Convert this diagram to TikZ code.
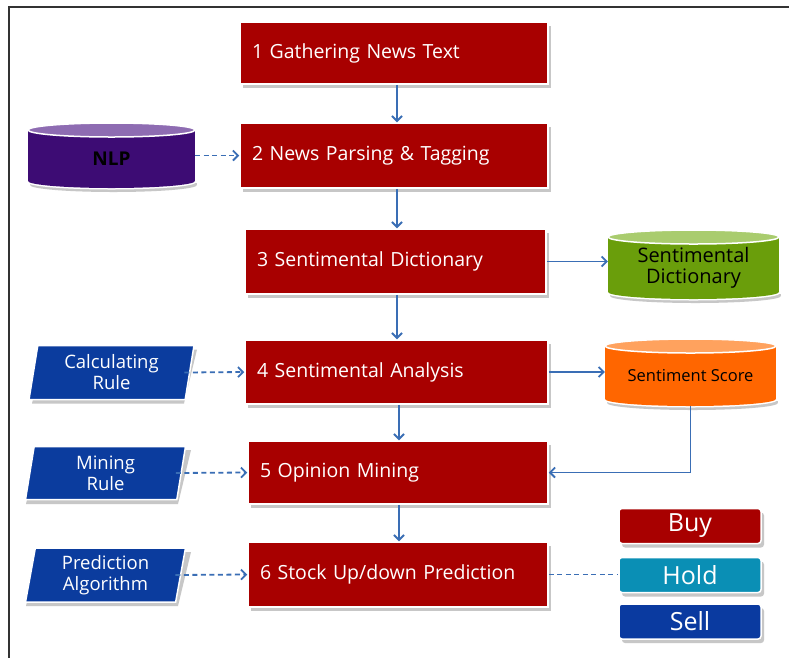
\documentclass[tikz,border=0pt]{standalone}
\usepackage{fontspec}
\setmainfont{Open Sans}
\usetikzlibrary{arrows.meta,shapes.geometric,calc}
\definecolor{boxred}{HTML}{A80000}
\definecolor{arrblue}{HTML}{3A6EB5}
\definecolor{para}{HTML}{0B3C9E}
\definecolor{purpb}{HTML}{3D0C74}
\definecolor{purpt}{HTML}{8E6CB2}
\definecolor{greenb}{HTML}{6A9E0B}
\definecolor{greent}{HTML}{A9CC6E}
\definecolor{orangeb}{HTML}{FF6600}
\definecolor{oranget}{HTML}{FFA25E}
\definecolor{teal}{HTML}{0A8FB5}
\definecolor{sellblue}{HTML}{0A3AA0}
\tikzset{
  stepbox/.style={fill=boxred, draw=white, line width=1.5pt, text=white, font=\fontsize{19.5}{22}\selectfont,
    align=left, inner xsep=11pt, anchor=center},
  shad/.style={fill=black!22},
  arr/.style={draw=arrblue, line width=1.8pt, -{Straight Barb[length=5pt,width=10pt]}},
  darr/.style={arr, dash pattern=on 5pt off 3.5pt},
  pgram/.style={trapezium, trapezium left angle=76, trapezium right angle=104, trapezium stretches body,
    fill=para, draw=white, line width=1.5pt, text=white, font=\fontsize{18.5}{21}\selectfont, align=center, inner sep=0pt},
  choice/.style={rounded corners=3pt, draw=white, line width=1.5pt, text=white, font=\fontsize{25}{27}\selectfont,
    minimum width=142pt, minimum height=35pt, inner sep=0pt},
}
% cylinder: name, x1, y1, x2, y2, body, top, ry
\newcommand\mycyl[8]{%
  \pgfmathsetmacro\cx{(#2+#4)/2}%
  \pgfmathsetmacro\rx{(#4-#2)/2}%
  \pgfmathsetmacro\ytop{#3+#8}%
  \pgfmathsetmacro\ybot{#5-#8}%
  \fill[shad] ({#2+2},{\ytop+4}) rectangle ({#4+2},{\ybot+4});
  \fill[shad] ({\cx+2},{\ybot+4}) ellipse [x radius=\rx, y radius=#8];
  \filldraw[white, line width=3pt] (#2,\ytop) rectangle (#4,\ybot);
  \filldraw[white, line width=3pt] (\cx,\ybot) ellipse [x radius=\rx, y radius=#8];
  \fill[#6] (#2,\ytop) rectangle (#4,\ybot);
  \fill[#6] (\cx,\ybot) ellipse [x radius=\rx, y radius=#8];
  \filldraw[fill=#7, draw=white, line width=1.5pt] (\cx,\ytop) ellipse [x radius=\rx, y radius=#8];
  \node[inner sep=0pt, minimum width={#4-#2}, minimum height={#5-#3-#8}] (#1) at (\cx,{(#3+#5)/2+#8/2}) {};
}
\begin{document}
\begin{tikzpicture}[x=1pt,y=-1pt]
\useasboundingbox (0,0) rectangle (789,657);
\fill[white] (0,0) rectangle (789,657);
% frame
\draw[black!80, line width=1.6pt] (9,658) -- (9,7) -- (790,7);

% step boxes with shadows
\foreach \cx/\cy/\w/\h in {394/53/308/62, 394/155.5/308/65, 395.5/261.5/301/65, 396.5/372/303/64, 398/472.5/300/63, 398/574.5/300/65}{
  \fill[shad] ({\cx-\w/2+3},{\cy-\h/2+4}) rectangle ({\cx+\w/2+3},{\cy+\h/2+4});
}
\node[stepbox, minimum width=308pt, minimum height=62pt, text width=284pt] (b1) at (394,53) {1 Gathering News Text};
\node[stepbox, minimum width=308pt, minimum height=65pt, text width=284pt] (b2) at (394,155.5) {2 News Parsing \& Tagging};
\node[stepbox, minimum width=301pt, minimum height=65pt, text width=277pt] (b3) at (395.5,261.5) {3 Sentimental Dictionary};
\node[stepbox, minimum width=303pt, minimum height=64pt, text width=279pt] (b4) at (396.5,372) {4 Sentimental Analysis};
\node[stepbox, minimum width=300pt, minimum height=63pt, text width=276pt] (b5) at (398,472.5) {5 Opinion Mining};
\node[stepbox, minimum width=300pt, minimum height=65pt, text width=276pt] (b6) at (398,574.5) {6 Stock Up/down Prediction};

% cylinders
\mycyl{nlp}{28}{123}{195}{188}{purpb}{purpt}{7}
\node[font=\fontsize{19}{21}\selectfont\bfseries] at (nlp) {NLP};
\mycyl{sd}{608}{230}{779}{299}{greenb}{greent}{7}
\node[font=\fontsize{20}{21}\selectfont, align=center] at (sd) {Sentimental\\Dictionary};
\mycyl{ss}{605}{339}{776}{406}{orangeb}{oranget}{7}
\node[font=\fontsize{16.5}{18}\selectfont] at (ss) {Sentiment Score};

% parallelograms
\foreach \cx/\cy in {111.5/372.5, 105.5/473, 105.5/575}{
  \fill[shad] ({\cx-82.5+3},{\cy+27+4}) -- ({\cx-82.5+13+3},{\cy-27+4}) -- ({\cx+82.5+3},{\cy-27+4}) -- ({\cx+82.5-13+3},{\cy+27+4}) -- cycle;
}
\node[pgram, minimum width=165pt, minimum height=54pt] (cr) at (111.5,372.5) {Calculating\\Rule};
\node[pgram, minimum width=160pt, minimum height=53pt] (mr) at (105.5,473) {Mining\\Rule};
\node[pgram, minimum width=160pt, minimum height=54pt] (pa) at (105.5,575) {Prediction\\Algorithm};

% choices
\foreach \cy in {526,575,621.5}{
  \fill[shad, rounded corners=3pt] ({619+3},{\cy-17.5+4}) rectangle ({761+3},{\cy+17.5+4});
}
\node[choice, fill=boxred] (buy) at (690,526) {Buy};
\node[choice, fill=teal] (hold) at (690,575) {Hold};
\node[choice, fill=sellblue] (sell) at (690,621.5) {Sell};

% connectors
\draw[arr] (b1.south -| 397,0) -- (b2.north -| 397,0);
\draw[arr] (b2.south -| 397,0) -- (b3.north -| 397,0);
\draw[arr] (b3.south -| 397,0) -- (b4.north -| 397,0);
\draw[arr] (b4.south -| 399,0) -- (b5.north -| 399,0);
\draw[arr] (b5.south -| 399,0) -- (b6.north -| 399,0);
\draw[darr] (nlp.east |- b2.west) -- (b2.west);
\draw[arr] (b3.east) -- (b3.east -| sd.west);
\draw[arr] (b4.east) -- (b4.east -| ss.west);
\draw[arr] (ss.south) -- ++(0,4) |- (b5.east);
\draw[darr] ([xshift=-6pt]cr.east) -- (b4.west);
\draw[darr] ([xshift=-6pt]mr.east) -- (b5.west);
\draw[darr] ([xshift=-6pt]pa.east) -- (b6.west);
\draw[arrblue, line width=1.8pt, dash pattern=on 5pt off 3.5pt] (b6.east) -- (b6.east -| hold.west);
\end{tikzpicture}
\end{document}
